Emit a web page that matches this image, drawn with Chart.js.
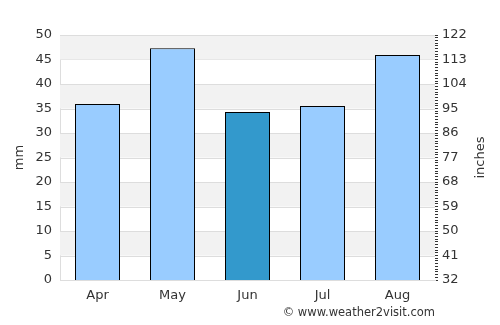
<!DOCTYPE html>
<html>
<head>
<meta charset="utf-8">
<script src="https://cdn.jsdelivr.net/npm/chart.js@4.4.0/dist/chart.umd.min.js"></script>
<style>
  html, body { margin: 0; padding: 0; background: #fff; }
  #wrap { width: 500px; height: 325px; position: relative; }
</style>
</head>
<body>
<div id="wrap"><canvas id="chart"></canvas></div>
<script>
const months = ["Apr", "May", "Jun", "Jul", "Aug"];
const rainMm = [35.9, 47.3, 34.3, 35.5, 45.9];
const barColors = ["#99ccff", "#99ccff", "#3399cc", "#99ccff", "#99ccff"];
const rightMin = 32;
const rightMax = 122;
const rightStep = 9;

const font = { family: "DejaVu Sans", size: 13 };
const textColor = "#333";

// grey bands every other 5 mm
const bands = {
  id: "bands",
  beforeDatasetsDraw(chart) {
    const { ctx, chartArea, scales } = chart;
    const y = scales.y;
    ctx.save();
    for (let v = 0; v < 50; v += 5) {
      const top = y.getPixelForValue(v + 5);
      const bottom = y.getPixelForValue(v);
      if ((v / 5) % 2 === 1) {
        ctx.fillStyle = "#f2f2f2";
        ctx.fillRect(chartArea.left, top, chartArea.right - chartArea.left, bottom - top);
      }
      ctx.strokeStyle = "#dddddd";
      ctx.lineWidth = 1;
      ctx.beginPath();
      ctx.moveTo(chartArea.left, Math.round(top) + 0.5);
      ctx.lineTo(chartArea.right, Math.round(top) + 0.5);
      ctx.stroke();
    }
    ctx.restore();
  }
};

// axis titles (both read bottom to top) and credit line
const labels = {
  id: "labels",
  afterDraw(chart) {
    const { ctx, chartArea } = chart;
    const mid = (chartArea.top + chartArea.bottom) / 2;
    ctx.save();
    ctx.font = "13px 'DejaVu Sans'";
    ctx.fillStyle = textColor;
    ctx.textAlign = "center";
    ctx.textBaseline = "middle";
    [["mm", 20], ["inches", 481]].forEach(([t, x]) => {
      ctx.save();
      ctx.translate(x, mid);
      ctx.rotate(-Math.PI / 2);
      ctx.fillText(t, 0, 0);
      ctx.restore();
    });
    ctx.font = "11.5px 'DejaVu Sans'";
    ctx.textAlign = "right";
    ctx.fillText("\u00a9 www.weather2visit.com", 435, 313);
    ctx.restore();
  }
};

new Chart(document.getElementById("chart"), {
  type: "bar",
  data: {
    labels: months,
    datasets: [
      {
        data: rainMm,
        backgroundColor: barColors,
        borderColor: "#000",
        borderWidth: 1,
        borderSkipped: "bottom",
        categoryPercentage: 1,
        barPercentage: 0.6
      }
    ]
  },
  options: {
    responsive: true,
    maintainAspectRatio: false,
    animation: false,
    layout: { padding: { top: 35, bottom: 0 } },
    plugins: {
      legend: { display: false },
      tooltip: { enabled: false }
    },
    scales: {
      x: {
        grid: { display: false, drawTicks: false },
        border: { color: "#dddddd" },
        ticks: { color: textColor, font: font, padding: 8 },
        afterFit: s => { s.height = 45; }
      },
      y: {
        min: 0,
        max: 50,
        ticks: { stepSize: 5, color: textColor, font: font, padding: 8 },
        grid: { display: false, drawTicks: false },
        border: { color: "#dddddd" },
        afterFit: s => { s.width = 60; }
      },
      y2: {
        position: "right",
        min: rightMin,
        max: rightMax,
        ticks: {
          stepSize: 1,
          maxTicksLimit: 200,
          autoSkip: false,
          color: textColor,
          font: font,
          padding: 4,
          callback: v => ((v - rightMin) % rightStep === 0 ? v : "")
        },
        grid: {
          drawOnChartArea: false,
          drawTicks: true,
          tickLength: 3,
          color: "#333"
        },
        border: { display: false },
        afterFit: s => { s.width = 65; }
      }
    }
  },
  plugins: [bands, labels]
});
</script>
</body>
</html>
